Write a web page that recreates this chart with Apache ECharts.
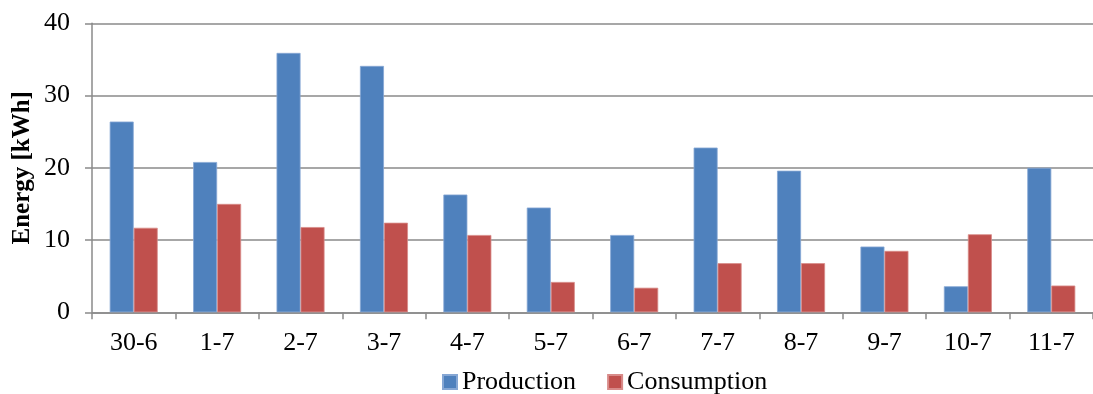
<!DOCTYPE html>
<html>
<head>
<meta charset="utf-8">
<title>Daily energy production and consumption</title>
<script src="https://cdn.jsdelivr.net/npm/echarts@6/dist/echarts.min.js"></script>
<style>
  html, body { margin: 0; padding: 0; background: #ffffff; }
  #chart { width: 1093px; height: 394px; }
</style>
</head>
<body>
<div id="chart"></div>
<script>
// Days (day-month) and daily energy totals in kWh
const days = ['30-6', '1-7', '2-7', '3-7', '4-7', '5-7', '6-7', '7-7', '8-7', '9-7', '10-7', '11-7'];
const production = [26.4, 20.8, 35.9, 34.1, 16.3, 14.5, 10.7, 22.8, 19.6, 9.1, 3.6, 20.0];
const consumption = [11.7, 15.0, 11.8, 12.4, 10.7, 4.2, 3.4, 6.8, 6.8, 8.5, 10.8, 3.7];
const yTicks = { min: 0, max: 40, interval: 10 };

const serif = "'Liberation Serif', 'Times New Roman', serif";
const gray = '#8a8a8a';

const chart = echarts.init(document.getElementById('chart'), null, { renderer: 'canvas' });

chart.setOption({
  animation: false,
  backgroundColor: '#ffffff',
  textStyle: { fontFamily: serif, color: '#000000' },
  grid: { left: 92, top: 23.3, width: 1009, height: 289, containLabel: false },
  legend: {
    left: 437,
    top: 364,
    itemWidth: 14,
    itemHeight: 14,
    itemGap: 31,
    icon: 'rect',
    textStyle: { fontFamily: serif, fontSize: 26, lineHeight: 26, color: '#000000' },
    data: ['Production', 'Consumption']
  },
  xAxis: {
    type: 'category',
    data: days,
    boundaryGap: true,
    axisLine: { show: true, lineStyle: { color: gray, width: 1.5 } },
    axisTick: { show: true, length: 7, lineStyle: { color: gray, width: 1.5 } },
    axisLabel: { fontFamily: serif, fontSize: 26, color: '#000000', margin: 18 },
    splitLine: { show: false }
  },
  yAxis: {
    type: 'value',
    min: yTicks.min,
    max: yTicks.max,
    interval: yTicks.interval,
    name: 'Energy [kWh]',
    nameLocation: 'middle',
    nameGap: 57,
    nameMoveOverlap: false,
    nameTextStyle: { fontFamily: serif, fontSize: 25, fontWeight: 'bold', color: '#000000' },
    axisLine: { show: true, lineStyle: { color: gray, width: 1.5 } },
    axisTick: { show: true, length: 7, lineStyle: { color: gray, width: 1.5 } },
    axisLabel: { fontFamily: serif, fontSize: 26, color: '#000000', margin: 22 },
    splitLine: { show: true, lineStyle: { color: gray, width: 1.5 } }
  },
  series: [
    {
      name: 'Production',
      type: 'bar',
      data: production,
      barWidth: 24,
      barGap: '0%',
      itemStyle: { color: '#4f81bd', borderColor: '#86a7d4', borderWidth: 0.8 }
    },
    {
      name: 'Consumption',
      type: 'bar',
      data: consumption,
      barWidth: 24,
      barGap: '0%',
      itemStyle: { color: '#c0504d', borderColor: '#d88b89', borderWidth: 0.8 }
    }
  ]
});
</script>
</body>
</html>
